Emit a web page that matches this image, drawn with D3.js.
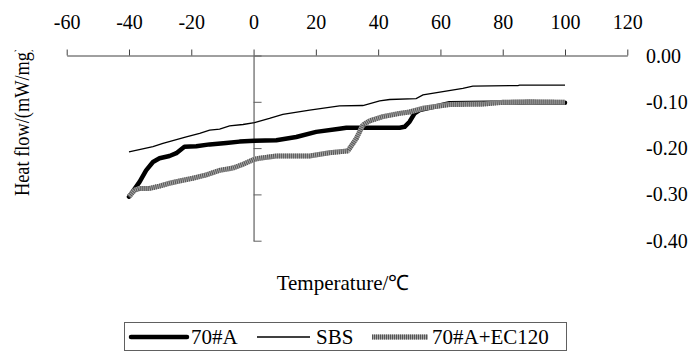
<!DOCTYPE html>
<html>
<head>
<meta charset="utf-8">
<script src="https://cdn.jsdelivr.net/npm/d3@7"></script>
<style>
  body { margin: 0; background: #fff; }
  svg { display: block; font-family: "Liberation Serif", "Times New Roman", serif; }
</style>
</head>
<body>
<div id="chart"></div>
<script>
// temperature (°C) and heat flow (mW/mg)
const temp70A = [-40, -36.6, -34.5, -32.3, -30.2, -27, -24.8, -22.2, -18.4, -14.1, -8.8, -4.5, 0.3, 7.3, 13.7, 20.1, 27.6, 29.8, 46.9, 48.5, 50.1, 51.7, 53.3, 62.9, 75.8, 88.6, 100];
const flow70A = [-0.305, -0.273, -0.248, -0.230, -0.222, -0.217, -0.211, -0.197, -0.196, -0.192, -0.189, -0.186, -0.184, -0.183, -0.176, -0.165, -0.158, -0.156, -0.156, -0.154, -0.143, -0.125, -0.118, -0.103, -0.102, -0.101, -0.102];

const tempSBS = [-40, -32.3, -29.1, -21.6, -17.3, -14.1, -10.9, -7.7, -3.4, 0.3, 5.1, 9.4, 18, 27.6, 35.1, 40.5, 43.7, 52.2, 54.4, 67.2, 70.4, 84.9, 85.4, 100];
const flowSBS = [-0.208, -0.197, -0.190, -0.176, -0.168, -0.161, -0.159, -0.152, -0.149, -0.145, -0.136, -0.127, -0.118, -0.109, -0.108, -0.098, -0.095, -0.093, -0.085, -0.071, -0.066, -0.065, -0.064, -0.064];

const tempEC = [-40, -38.2, -36.6, -33.4, -30.2, -27, -23.8, -19.5, -15.2, -10.9, -6.6, -3.4, 0.3, 1.9, 7.3, 18, 24.4, 30.3, 30.8, 33, 35.1, 37.3, 41.5, 46.9, 50.1, 54.4, 62.9, 73.6, 80.1, 88.6, 100];
const flowEC = [-0.305, -0.291, -0.287, -0.287, -0.282, -0.276, -0.271, -0.265, -0.258, -0.248, -0.243, -0.235, -0.224, -0.222, -0.217, -0.217, -0.210, -0.206, -0.201, -0.179, -0.150, -0.141, -0.132, -0.125, -0.122, -0.114, -0.106, -0.105, -0.101, -0.100, -0.101];

const xTicks = [-60, -40, -20, 0, 20, 40, 60, 80, 100, 120];
const yTicks = [0, -0.1, -0.2, -0.3, -0.4];
const seriesNames = ['70#A', 'SBS', '70#A+EC120'];

const width = 697, height = 353;

const svg = d3.select('#chart').append('svg')
  .attr('width', width)
  .attr('height', height);

const x = d3.scaleLinear().domain([-60, 120]).range([66.7, 627.3]);
const y = d3.scaleLinear().domain([-0.4, 0]).range([240.7, 55.5]);

// top x axis
const xAxis = d3.axisTop(x).tickValues(xTicks).tickSize(6).tickPadding(21).tickSizeOuter(0)
  .tickFormat(d => String(d));
const gx = svg.append('g')
  .attr('transform', `translate(0,${y(0)})`)
  .call(xAxis);
gx.select('.domain').attr('stroke', '#404040');
gx.selectAll('.tick line').attr('stroke', '#404040');
gx.selectAll('.tick text')
  .attr('fill', '#000')
  .style('font-family', '"Liberation Serif", serif')
  .style('font-size', '20px');

// vertical axis crossing at 0, ticks to the right
const yAxis = d3.axisRight(y).tickValues(yTicks).tickSize(8).tickSizeOuter(0).tickFormat('');
const gy = svg.append('g')
  .attr('transform', `translate(${x(0)},0)`)
  .call(yAxis);
gy.select('.domain').attr('stroke', '#808080').attr('stroke-width', 1.5);
gy.selectAll('.tick line').attr('stroke', '#606060');

// y labels on the right
svg.append('g').selectAll('text')
  .data(yTicks)
  .join('text')
  .attr('x', 646)
  .attr('y', d => y(d))
  .attr('dy', '0.35em')
  .style('font-size', '20px')
  .text(d => (d === 0 ? 0 : d).toFixed(2));

// axis titles
svg.append('defs').append('clipPath').attr('id', 'ylabclip')
  .append('rect').attr('x', 0).attr('y', 50).attr('width', 60).attr('height', 200);

svg.append('g')
  .attr('clip-path', 'url(#ylabclip)')
  .append('text')
  .attr('transform', 'translate(29,196) rotate(-90)')
  .attr('textLength', 150)
  .attr('lengthAdjust', 'spacingAndGlyphs')
  .style('font-size', '20px')
  .text('Heat flow/(mW/mg)');

svg.append('text')
  .attr('x', 343)
  .attr('y', 290)
  .attr('text-anchor', 'middle')
  .style('font-size', '21px')
  .text('Temperature/\u2103');

// lines
const line = d3.line().x(d => x(d[0])).y(d => y(d[1]));

const d70A = temp70A.map((t, i) => [t, flow70A[i]]);
const dSBS = tempSBS.map((t, i) => [t, flowSBS[i]]);
const dEC = tempEC.map((t, i) => [t, flowEC[i]]);

svg.append('path')
  .datum(d70A)
  .attr('fill', 'none')
  .attr('stroke', '#000')
  .attr('stroke-width', 4.5)
  .attr('stroke-linejoin', 'round')
  .attr('stroke-linecap', 'round')
  .attr('d', line);

svg.append('path')
  .datum(dSBS)
  .attr('fill', 'none')
  .attr('stroke', '#000')
  .attr('stroke-width', 1.3)
  .attr('d', line);

// striped grey line
svg.append('path')
  .datum(dEC)
  .attr('fill', 'none')
  .attr('stroke', '#a8a8a8')
  .attr('stroke-width', 5)
  .attr('d', line);
svg.append('path')
  .datum(dEC)
  .attr('fill', 'none')
  .attr('stroke', '#555')
  .attr('stroke-width', 5)
  .attr('stroke-dasharray', '1 1')
  .attr('d', line);

// legend
const legend = svg.append('g');
legend.append('rect')
  .attr('x', 124.5).attr('y', 322.5)
  .attr('width', 442).attr('height', 28)
  .attr('fill', '#fff')
  .attr('stroke', '#606060');

const legX = [131, 257, 372];
const legY = 337;
legend.append('line')
  .attr('x1', legX[0]).attr('x2', legX[0] + 56)
  .attr('y1', legY).attr('y2', legY)
  .attr('stroke', '#000').attr('stroke-width', 4.5).attr('stroke-linecap', 'round');
legend.append('line')
  .attr('x1', legX[1]).attr('x2', legX[1] + 53)
  .attr('y1', legY).attr('y2', legY)
  .attr('stroke', '#000').attr('stroke-width', 1.3);
legend.append('line')
  .attr('x1', legX[2]).attr('x2', legX[2] + 56)
  .attr('y1', legY).attr('y2', legY)
  .attr('stroke', '#a8a8a8').attr('stroke-width', 5);
legend.append('line')
  .attr('x1', legX[2]).attr('x2', legX[2] + 56)
  .attr('y1', legY).attr('y2', legY)
  .attr('stroke', '#555').attr('stroke-width', 5).attr('stroke-dasharray', '1 1');

const legTextX = [191, 316, 432];
legend.selectAll('text.leg')
  .data(seriesNames)
  .join('text')
  .attr('class', 'leg')
  .attr('x', (d, i) => legTextX[i])
  .attr('y', legY)
  .attr('dy', '0.35em')
  .style('font-size', '21px')
  .text(d => d);
</script>
</body>
</html>
